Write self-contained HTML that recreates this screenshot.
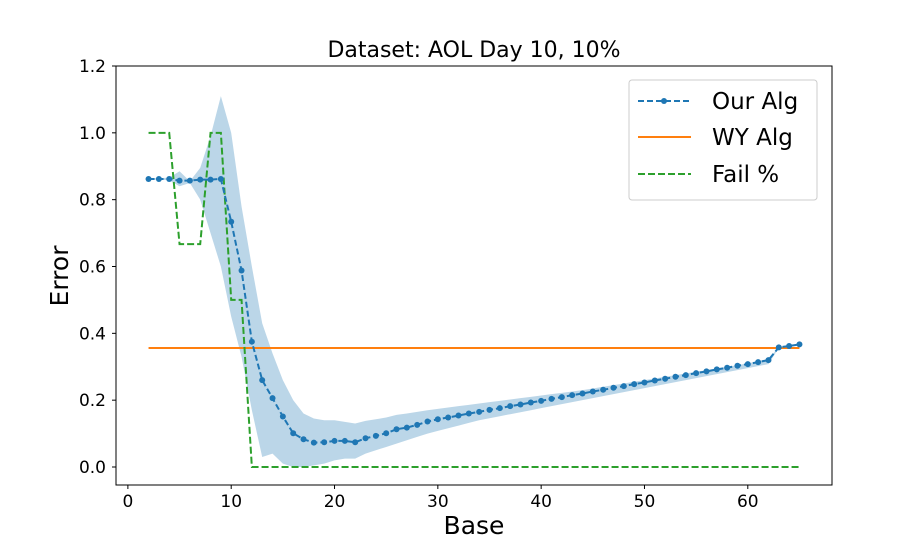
<!DOCTYPE html>
<html><head><meta charset="utf-8"><style>
body{margin:0;background:#fff;}
svg{display:block;font-family:"DejaVu Sans","Liberation Sans",sans-serif;}
</style></head><body>
<svg id="chart" width="922" height="553"></svg>
<script>
const xs=[];for(let i=2;i<=65;i++)xs.push(i);
const ourAlg=[0.862,0.862,0.862,0.857,0.857,0.860,0.860,0.862,0.734,0.588,0.375,0.260,0.206,0.151,0.101,0.083,0.073,0.074,0.078,0.078,0.074,0.086,0.093,0.101,0.113,0.118,0.126,0.136,0.143,0.148,0.154,0.160,0.165,0.171,0.176,0.182,0.187,0.193,0.198,0.204,0.209,0.215,0.220,0.226,0.231,0.237,0.242,0.248,0.253,0.259,0.264,0.270,0.275,0.281,0.286,0.292,0.297,0.303,0.308,0.314,0.320,0.358,0.362,0.367];
const bandUpper=[0.864,0.864,0.866,0.885,0.855,0.895,0.99,1.11,1.0,0.78,0.6,0.43,0.34,0.26,0.2,0.16,0.145,0.14,0.14,0.135,0.13,0.138,0.143,0.148,0.156,0.16,0.165,0.17,0.174,0.178,0.182,0.186,0.19,0.194,0.198,0.202,0.206,0.21,0.214,0.218,0.222,0.226,0.23,0.235,0.24,0.245,0.25,0.255,0.26,0.265,0.27,0.275,0.28,0.285,0.29,0.295,0.3,0.305,0.31,0.316,0.322,0.36,0.364,0.369];
const bandLower=[0.86,0.86,0.858,0.84,0.85,0.8,0.7,0.6,0.45,0.33,0.17,0.03,0.04,0.01,0.0,0.0,0.005,0.01,0.02,0.025,0.025,0.04,0.05,0.06,0.07,0.08,0.09,0.1,0.108,0.116,0.124,0.132,0.14,0.146,0.152,0.158,0.164,0.17,0.176,0.182,0.188,0.194,0.2,0.206,0.212,0.218,0.224,0.23,0.236,0.242,0.248,0.254,0.26,0.266,0.272,0.278,0.284,0.29,0.296,0.302,0.308,0.356,0.36,0.365];
const failPct=[1,1,1,0.667,0.667,0.667,1,1,0.5,0.5,0,0,0,0,0,0,0,0,0,0,0,0,0,0,0,0,0,0,0,0,0,0,0,0,0,0,0,0,0,0,0,0,0,0,0,0,0,0,0,0,0,0,0,0,0,0,0,0,0,0,0,0,0,0];
const wyValue=0.356;
const xTicks=[0,10,20,30,40,50,60];
const yTicks=[0.0,0.2,0.4,0.6,0.8,1.0,1.2];

const L=116,R=832,T=66,B=485;
const xMin=-1.15,xMax=68.15;
const X=v=>L+(v-xMin)/(xMax-xMin)*(R-L);
const Y=v=>467-v*(467-66)/1.2;
const svg=document.getElementById('chart');
const NS='http://www.w3.org/2000/svg';
function mk(tag,attrs,parent){const e=document.createElementNS(NS,tag);for(const k in attrs)e.setAttribute(k,attrs[k]);(parent||svg).appendChild(e);return e;}

let d='M'+xs.map((x,i)=>X(x)+','+Y(bandUpper[i])).join('L');
for(let i=xs.length-1;i>=0;i--)d+='L'+X(xs[i])+','+Y(bandLower[i]);
const band=mk('path',{d:d+'Z',fill:'#1f77b4','fill-opacity':0.3,stroke:'none'});



const wy=mk('line',{x1:X(xs[0]),x2:X(xs[xs.length-1]),y1:Y(wyValue),y2:Y(wyValue),stroke:'#ff7f0e','stroke-width':2});



const fl=mk('polyline',{points:xs.map((x,i)=>X(x)+','+Y(failPct[i])).join(' '),fill:'none',stroke:'#2ca02c','stroke-width':2,'stroke-dasharray':'7,3'});



const ol=mk('polyline',{points:xs.map((x,i)=>X(x)+','+Y(ourAlg[i])).join(' '),fill:'none',stroke:'#1f77b4','stroke-width':2,'stroke-dasharray':'6,3'});


xs.forEach((x,i)=>{
  const c=mk('circle',{cx:X(x),cy:Y(ourAlg[i]),r:3,fill:'#1f77b4'});
  
  
});

const fr=mk('rect',{x:L,y:T,width:R-L,height:B-T,fill:'none',stroke:'#000','stroke-width':1});



xTicks.forEach(t=>{
  const tk=mk('line',{x1:X(t),x2:X(t),y1:B,y2:B+4,stroke:'#000'});
  
  
  const tx=mk('text',{x:X(t),y:B+22,'text-anchor':'middle','font-size':17});
  tx.textContent=t;
  
  
});
yTicks.forEach(t=>{
  const tk=mk('line',{x1:L-4,x2:L,y1:Y(t),y2:Y(t),stroke:'#000'});
  
  
  const tx=mk('text',{x:L-10,y:Y(t)+6,'text-anchor':'end','font-size':17});
  tx.textContent=t.toFixed(1);
  
  
});

const title=mk('text',{x:474,y:57,'text-anchor':'middle','font-size':22});
title.textContent='Dataset: AOL Day 10, 10%';


const xl=mk('text',{x:474,y:534,'text-anchor':'middle','font-size':25});
xl.textContent='Base';


const yl=mk('text',{x:68,y:276,'text-anchor':'middle','font-size':25,transform:'rotate(-90 68 276)'});
yl.textContent='Error';



const lg=mk('g',{});


mk('rect',{x:629,y:80,width:188,height:120,rx:3,fill:'#fff','fill-opacity':0.8,stroke:'#ccc'},lg);
const entries=[['Our Alg','#1f77b4','6,3',101],['WY Alg','#ff7f0e','',137],['Fail %','#2ca02c','7,3',174]];
entries.forEach((e,i)=>{
  const g=mk('g',{},lg);
  
  
  const a={x1:638,x2:691,y1:e[3],y2:e[3],stroke:e[1],'stroke-width':2};
  if(e[2])a['stroke-dasharray']=e[2];
  mk('line',a,g);
  if(i===0)mk('circle',{cx:664,cy:e[3],r:3,fill:e[1]},g);
  const t=mk('text',{x:712,y:e[3]+8,'font-size':23},g);
  t.textContent=e[0];
});
</script>
</body></html>
